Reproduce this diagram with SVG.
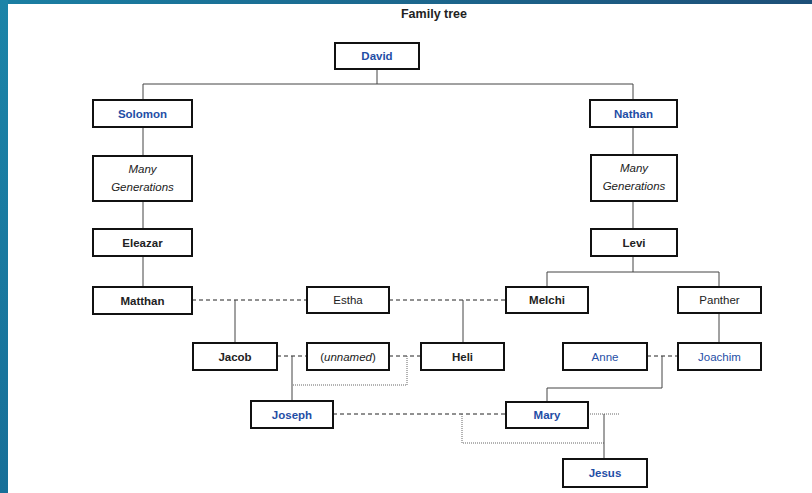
<svg xmlns="http://www.w3.org/2000/svg" width="812" height="493" viewBox="0 0 812 493">
<defs>
<linearGradient id="topbar" x1="0" y1="0" x2="1" y2="0">
<stop offset="0" stop-color="#1a7fa3"/>
<stop offset="1" stop-color="#1d4f78"/>
</linearGradient>
<linearGradient id="leftbar" x1="0" y1="0" x2="0" y2="1">
<stop offset="0" stop-color="#1b84a8"/>
<stop offset="1" stop-color="#176f98"/>
</linearGradient>
</defs>
<style>
.box{fill:#fff;stroke:#111;stroke-width:2}
.t{font-family:"Liberation Sans",Arial,sans-serif;font-size:11.5px;text-anchor:middle;fill:#222}
.b{font-weight:bold}
.blue{fill:#1f4ea6}
.i{font-style:italic}
.solid{fill:none;stroke:#444;stroke-width:1}
.dash{fill:none;stroke:#222;stroke-width:1;stroke-dasharray:4,3}
.dot{fill:none;stroke:#666;stroke-width:1;stroke-dasharray:1,1}
</style>
<rect x="0" y="0" width="812" height="493" fill="#fff"/>
<rect x="0" y="0" width="812" height="4" fill="url(#topbar)"/>
<rect x="0" y="0" width="8" height="493" fill="url(#leftbar)"/>
<text x="434" y="18" class="t b" style="font-size:12.5px">Family tree</text>

<g id="connectors">
<path class="solid" d="M377 69V84M143 84H633M143 84V100M633 84V100"/>
<path class="solid" d="M143 127V156M143 201V229M143 256V287"/>
<path class="solid" d="M633 127V155M633 201V229M633 256V272M547 272H719M547 272V287M719 272V287M719 313V343"/>
<path class="dash" d="M192 300H307M389 300H506"/>
<path class="solid" d="M235 300V343M463 300V343"/>
<path class="dash" d="M277 356H307M389 356H421M647 356H678"/>
<path class="solid" d="M292 356V401"/>
<path class="dot" d="M407 356V385H292"/>
<path class="solid" d="M662 356V388H547V402"/>
<path class="dash" d="M333 414H506"/>
<path class="dot" d="M462 414V443H604M588 414H620"/>
<path class="solid" d="M604 414V459"/>
</g>

<g id="david"><rect class="box" x="335" y="43" width="84" height="26"/><text class="t b blue" x="377" y="60">David</text></g>
<g id="solomon"><rect class="box" x="93" y="100" width="99" height="27"/><text class="t b blue" x="142.5" y="117.5">Solomon</text></g>
<g id="nathan"><rect class="box" x="590" y="100" width="87" height="27"/><text class="t b blue" x="633.5" y="117.5">Nathan</text></g>
<g id="many-left"><rect class="box" x="93" y="156" width="99" height="45"/><text class="t i" x="142.5" y="173">Many</text><text class="t i" x="142.5" y="191">Generations</text></g>
<g id="many-right"><rect class="box" x="591" y="155" width="86" height="46"/><text class="t i" x="634" y="172">Many</text><text class="t i" x="634" y="190">Generations</text></g>
<g id="eleazar"><rect class="box" x="93" y="229" width="99" height="27"/><text class="t b" x="142.5" y="246.5">Eleazar</text></g>
<g id="levi"><rect class="box" x="591" y="229" width="86" height="27"/><text class="t b" x="634" y="246.5">Levi</text></g>
<g id="matthan"><rect class="box" x="93" y="287" width="99" height="27"/><text class="t b" x="142.5" y="304.5">Matthan</text></g>
<g id="estha"><rect class="box" x="307" y="287" width="82" height="26"/><text class="t" x="348" y="304">Estha</text></g>
<g id="melchi"><rect class="box" x="506" y="287" width="82" height="26"/><text class="t b" x="547" y="304">Melchi</text></g>
<g id="panther"><rect class="box" x="678" y="287" width="83" height="26"/><text class="t" x="719.5" y="304">Panther</text></g>
<g id="jacob"><rect class="box" x="193" y="343" width="84" height="27"/><text class="t b" x="235" y="360.5">Jacob</text></g>
<g id="unnamed"><rect class="box" x="307" y="343" width="82" height="27"/><text class="t" x="348" y="360.5">(<tspan class="i">unnamed</tspan>)</text></g>
<g id="heli"><rect class="box" x="421" y="343" width="83" height="27"/><text class="t b" x="462.5" y="360.5">Heli</text></g>
<g id="anne"><rect class="box" x="563" y="343" width="84" height="27"/><text class="t blue" x="605" y="360.5">Anne</text></g>
<g id="joachim"><rect class="box" x="678" y="343" width="83" height="27"/><text class="t blue" x="719.5" y="360.5">Joachim</text></g>
<g id="joseph"><rect class="box" x="251" y="401" width="82" height="27"/><text class="t b blue" x="292" y="418.5">Joseph</text></g>
<g id="mary"><rect class="box" x="506" y="402" width="82" height="26"/><text class="t b blue" x="547" y="419">Mary</text></g>
<g id="jesus"><rect class="box" x="563" y="459" width="84" height="28"/><text class="t b blue" x="605" y="477">Jesus</text></g>
</svg>
